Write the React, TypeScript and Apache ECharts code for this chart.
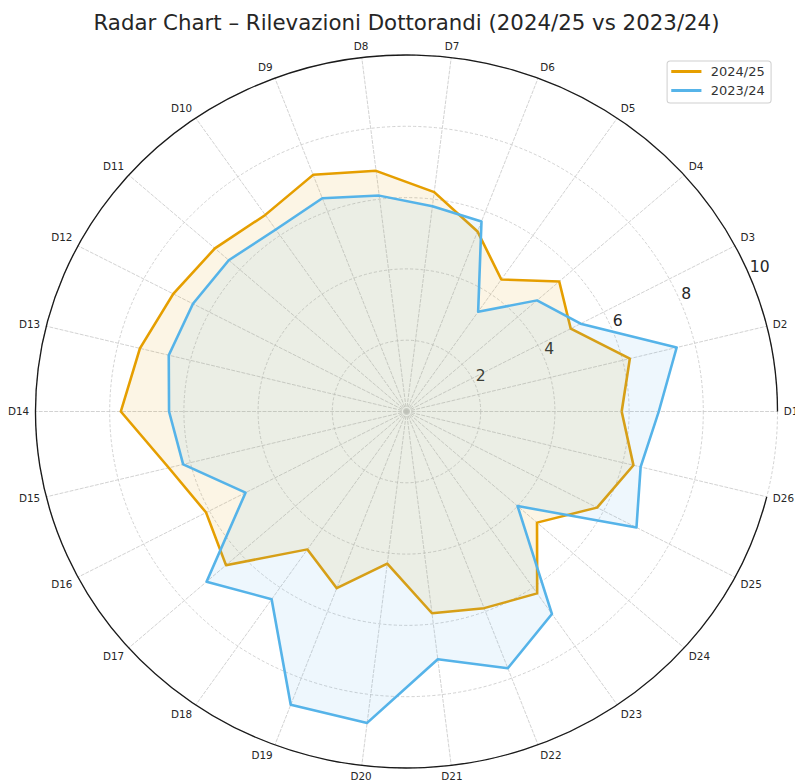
import React, { useEffect, useRef } from "react";
import * as echarts from "echarts";

// ---- data ----
const categories = [
  "D1", "D2", "D3", "D4", "D5", "D6", "D7", "D8", "D9", "D10", "D11", "D12", "D13",
  "D14", "D15", "D16", "D17", "D18", "D19", "D20", "D21", "D22", "D23", "D24", "D25", "D26",
];
const seriesNames = ["2024/25", "2023/24"];
const values2425 = [
  5.8, 6.2, 5.0, 5.5, 4.5, 5.4, 6.2, 6.8, 7.1, 6.7, 6.9, 7.1, 7.4,
  7.7, 6.6, 6.1, 6.5, 4.7, 5.3, 4.3, 5.7, 5.9, 6.2, 4.7, 5.8, 6.3,
];
const values2324 = [
  6.8, 7.5, 5.3, 4.7, 3.4, 5.7, 5.8, 6.1, 6.4, 6.2, 6.4, 6.5, 6.6,
  6.4, 6.2, 4.9, 7.2, 6.4, 8.8, 8.8, 7.0, 7.7, 6.9, 4.0, 7.0, 6.5,
];
const radialMin = 0;
const radialMax = 10;
const radialSplits = 5;

// ---- layout / style ----
const K = 1.0407; // horizontal stretch of the reference picture
const CW = 764;
const CH = 782;
const CX = 390.6;
const CY = 411.5;
const R = 356.5;
const FONT = "DejaVu Sans";
const ORANGE = "#E69F00";
const BLUE = "#56B4E9";
const GRID = "#c8c8c8";

export default function App() {
  const ref = useRef<HTMLDivElement>(null);

  useEffect(() => {
    if (!ref.current) return;
    const chart = echarts.init(ref.current, null, { renderer: "svg" });
    chart.setOption({
      animation: false,
      backgroundColor: "#ffffff",
      title: {
        text: "Radar Chart – Rilevazioni Dottorandi (2024/25 vs 2023/24)",
        left: CX,
        top: 13,
        padding: 0,
        textAlign: "center",
        textStyle: { fontSize: 20.5, fontWeight: "normal", color: "#262626", fontFamily: FONT },
      },
      legend: {
        data: seriesNames,
        orient: "vertical",
        left: 641,
        top: 61,
        padding: [4, 6, 6, 4],
        itemGap: 6,
        itemWidth: 29,
        itemHeight: 3,
        icon: "rect",
        textStyle: { fontSize: 12.5, color: "#333333", fontFamily: FONT, padding: [0, 0, 0, 4] },
        borderColor: "#d0d0d0",
        borderWidth: 1,
        borderRadius: 3,
        backgroundColor: "rgba(255,255,255,0.8)",
      },
      radar: [
        {
          center: [CX, CY],
          radius: R,
          startAngle: 0,
          shape: "circle",
          splitNumber: radialSplits,
          indicator: categories.map((n) => ({ name: n, min: radialMin, max: radialMax })),
          axisName: { show: false },
          axisLine: { show: true, lineStyle: { color: GRID, type: [3, 2], width: 0.8 } },
          splitLine: { show: true, lineStyle: { color: GRID, type: [3, 2], width: 0.8 } },
          splitArea: { show: false },
          axisTick: { show: false },
          axisLabel: { show: false },
        },
        {
          center: [CX, CY],
          radius: R,
          startAngle: 22.5,
          shape: "circle",
          splitNumber: radialSplits,
          indicator: [{ name: "", min: radialMin, max: radialMax }],
          axisName: { show: false },
          axisLine: { show: false },
          splitLine: { show: false },
          splitArea: { show: false },
          axisTick: { show: false },
          axisLabel: {
            show: true,
            showMinLabel: false,
            margin: 9,
            align: "left",
            verticalAlign: "middle",
            padding: [0, 0, 0, 4],
            fontSize: 15,
            color: "#262626",
            fontFamily: FONT,
            formatter: (v: number) => (v === 0 ? "" : String(v)),
          },
        },
      ],
      polar: { center: [CX, CY], radius: R },
      angleAxis: {
        type: "category",
        data: categories,
        startAngle: 0,
        clockwise: false,
        boundaryGap: false,
        z: 10,
        axisLine: { show: true, lineStyle: { color: "#1a1a1a", width: 1.3 } },
        axisTick: { show: false },
        splitLine: { show: false },
        axisLabel: { interval: 0, margin: 6, fontSize: 10, color: "#262626", fontFamily: FONT },
      },
      radiusAxis: {
        min: radialMin,
        max: radialMax,
        axisLine: { show: false },
        axisTick: { show: false },
        axisLabel: { show: false },
        splitLine: { show: false },
      },
      series: [
        {
          type: "radar",
          radarIndex: 0,
          symbol: "none",
          data: [
            {
              name: seriesNames[0],
              value: values2425,
              lineStyle: { color: ORANGE, width: 2.5 },
              itemStyle: { color: ORANGE },
              areaStyle: { color: ORANGE, opacity: 0.1 },
            },
            {
              name: seriesNames[1],
              value: values2324,
              lineStyle: { color: BLUE, width: 2.5 },
              itemStyle: { color: BLUE },
              areaStyle: { color: BLUE, opacity: 0.1 },
            },
          ],
        },
      ],
    });
    return () => chart.dispose();
  }, []);

  return (
    <div
      style={{
        position: "fixed",
        left: 0,
        top: 0,
        width: 795,
        height: CH,
        overflow: "hidden",
        background: "#ffffff",
      }}
    >
      <div
        ref={ref}
        style={{ width: CW, height: CH, transform: `scaleX(${K})`, transformOrigin: "0 0" }}
      />
    </div>
  );
}
